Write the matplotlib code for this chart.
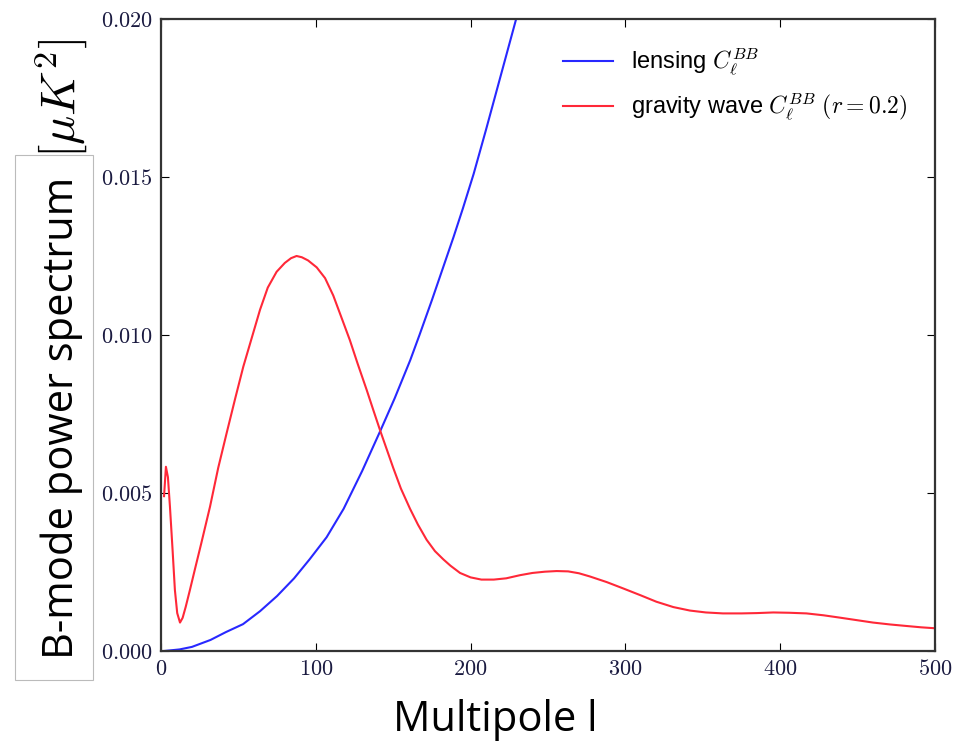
import matplotlib
matplotlib.use('Agg')
import matplotlib.pyplot as plt
from matplotlib.patches import Rectangle

# gravity wave C_l^BB (r = 0.2)
gw_l = [2, 3.2, 4.5, 5.8, 7.5, 9, 10.5, 12.3, 14, 16, 18.7, 22, 26, 31.7, 37, 42.4, 48,
        53.2, 58, 64, 69, 74.7, 80, 84, 87.6, 91, 95, 100.6, 106, 111.3, 117, 122, 127,
        132.9, 137, 141.5, 146, 150, 155, 160.9, 166, 171.6, 177, 182.4, 187, 193.2, 200,
        207, 215, 223, 232, 240, 248, 255.6, 263, 270, 277, 288, 298.6, 310, 320, 331,
        341.7, 352, 363, 375, 385, 395.5, 406, 417, 428, 438, 449, 460, 471, 482, 491, 500]
gw_cl = [0.0049, 0.00583, 0.0055, 0.00457, 0.0032, 0.00193, 0.0012, 0.0009, 0.00105,
         0.0014, 0.00193, 0.0026, 0.0034, 0.00457, 0.0058, 0.00689, 0.0080, 0.0090, 0.0098,
         0.0108, 0.0115, 0.0120, 0.01228, 0.01243, 0.0125, 0.01246, 0.01236, 0.01214,
         0.0118, 0.01125, 0.0105, 0.00984, 0.0091, 0.00826, 0.00765, 0.00699, 0.00636,
         0.00580, 0.00514, 0.00450, 0.00400, 0.00352, 0.00316, 0.0029, 0.0027, 0.00247,
         0.00233, 0.00226, 0.00226, 0.0023, 0.0024, 0.00247, 0.00251, 0.00253, 0.00252,
         0.00246, 0.00236, 0.00218, 0.00198, 0.00176, 0.00156, 0.00139, 0.00128, 0.00122,
         0.00119, 0.00119, 0.0012, 0.00122, 0.00121, 0.00119, 0.00113, 0.00106, 0.00098,
         0.0009, 0.00084, 0.00079, 0.00075, 0.00072]

# lensing C_l^BB
lens_l = [2, 12, 20, 32, 42, 53, 64, 75, 86, 96, 107, 118, 130, 142, 151, 161, 167, 175,
          182, 189, 195, 202, 210, 220, 230, 236]
lens_cl = [0.0, 0.00005, 0.00013, 0.00035, 0.0006, 0.00085, 0.00126, 0.00174, 0.0023,
           0.0029, 0.0036, 0.0045, 0.0057, 0.0070, 0.0080, 0.0092, 0.0100, 0.0111,
           0.0121, 0.0131, 0.0140, 0.0151, 0.0165, 0.0183, 0.0201, 0.0213]

x_ticks = [0, 100, 200, 300, 400, 500]
y_ticks = [0.000, 0.005, 0.010, 0.015, 0.020]

plt.rcParams['mathtext.fontset'] = 'cm'

fig = plt.figure(figsize=(9.65, 7.47), dpi=100)
ax = fig.add_axes([0.1668, 0.1285, 0.8021, 0.8461])

ax.plot(lens_l, lens_cl, color='#2828ff', lw=1.5, label=r'lensing $C_\ell^{BB}$')
ax.plot(gw_l, gw_cl, color='#ff2838', lw=1.5, label=r'gravity wave $C_\ell^{BB}$ $(r=0.2)$')

ax.set_xlim(0, 500)
ax.set_ylim(0, 0.020)
ax.set_xticks(x_ticks)
ax.set_xticklabels([r'$%d$' % v for v in x_ticks], fontsize=16)
ax.set_yticks(y_ticks)
ax.set_yticklabels([r'$%.3f$' % v for v in y_ticks], fontsize=16)
ax.tick_params(direction='in', length=6, width=0.8, top=True, right=True, pad=6,
               labelcolor='#1a1a40')
for s in ax.spines.values():
    s.set_linewidth(1.6)
    s.set_color('#333333')

leg = ax.legend(loc='upper right', frameon=False,
                prop={'family': 'Liberation Sans', 'size': 17},
                handlelength=2.1, labelspacing=0.6, borderaxespad=0.75)

# y label in a box plus unit
fig.patches.append(Rectangle((15 / 965, 1 - 680 / 747), 78 / 965, 525 / 747,
                             transform=fig.transFigure, fill=False,
                             edgecolor='#bbbbbb', lw=0.8))
fig.text(62 / 965, 1 - 418 / 747, 'B-mode power spectrum', rotation=90,
         ha='center', va='center', fontsize=30, family='Open Sans')
fig.text(61 / 965, 1 - 98 / 747, r'$[\mu K^2]$', rotation=90,
         ha='center', va='center', fontsize=35)
fig.text(495 / 965, 1 - 720 / 747, 'Multipole l', ha='center', va='center',
         fontsize=30, family='Open Sans')

fig.savefig('out.png', dpi=100)
